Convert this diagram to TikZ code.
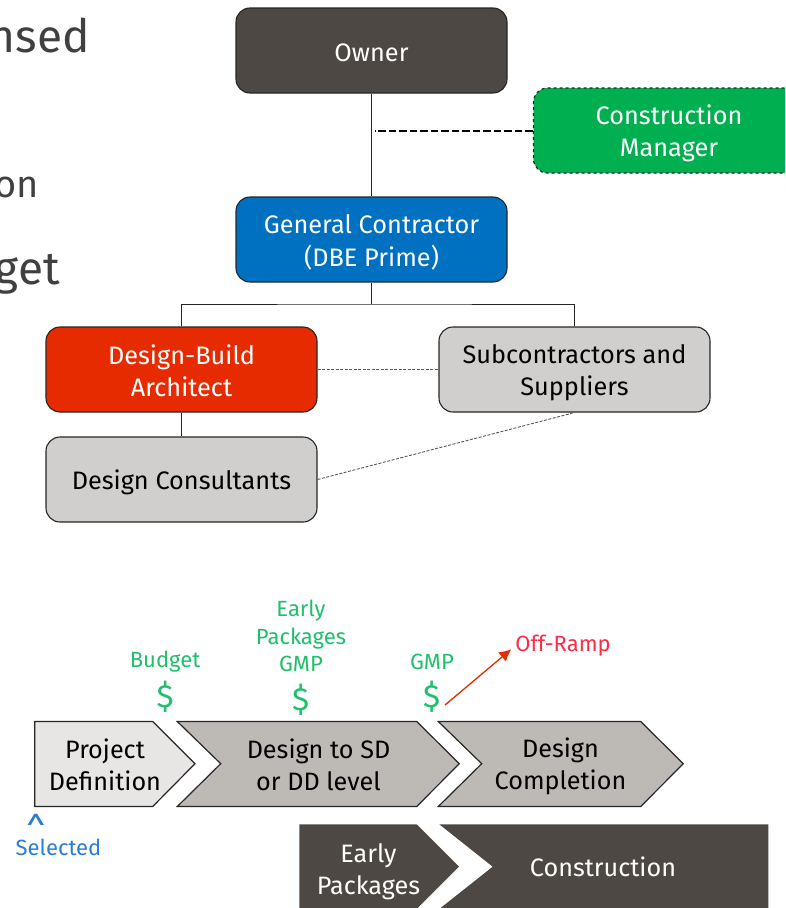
\documentclass[tikz,border=0pt]{standalone}
\usepackage{fontspec}
\setmainfont{Fira Sans}[Scale=1]
\usetikzlibrary{arrows.meta}
\definecolor{darkb}{HTML}{4D4843}
\definecolor{bluec}{HTML}{0070C0}
\definecolor{redc}{HTML}{E62B00}
\definecolor{greenc}{HTML}{00B050}
\definecolor{grayc}{HTML}{D1CFCD}
\definecolor{taupe}{HTML}{BDB9B5}
\definecolor{lightc}{HTML}{E8E6E5}
\definecolor{moneyg}{HTML}{1FBF6B}
\definecolor{selb}{HTML}{2B7CD3}
\definecolor{bigt}{HTML}{404040}
\definecolor{offr}{HTML}{FF2A45}
\newcommand{\lst}{\rule{0pt}{25pt}\rule[-3.2pt]{0pt}{3.2pt}}
\tikzset{
  x=1pt,y=-1pt,
  box/.style={draw=black!85,line width=1.1pt,rounded corners=14pt,minimum width=271pt,minimum height=85pt,
    align=center,font=\fontsize{25.3}{32.4}\selectfont,inner sep=0pt},
  wbox/.style={box,text=white},
  link/.style={line width=1pt,draw=black!85},
  thindash/.style={line width=1pt,draw=black!65,dash pattern=on 3pt off 1.5pt},
  chev/.style={draw=black!85,line width=1.2pt,line join=miter},
  lab/.style={align=center,inner sep=0pt,font=\fontsize{25.2}{32.4}\selectfont},
  money/.style={lab,text=moneyg,font=\fontsize{22}{27.5}\selectfont},
  dollar/.style={inner sep=0pt,text=moneyg,font=\fontsize{32}{32}\selectfont},
  bigtext/.style={inner sep=0pt,anchor=base east,text=bigt},
}
\begin{document}
\begin{tikzpicture}
\useasboundingbox (0,0) rectangle (785,908);
\clip (0,0) rectangle (785,908);
% background text fragments
\node[bigtext,font=\fontsize{46}{46}\selectfont] (t1) at (90,52) {nsed};
\node[bigtext,font=\fontsize{38}{38}\selectfont] (t2) at (39,197) {on};
\node[bigtext,font=\fontsize{46}{46}\selectfont] (t3) at (60,284) {get};
% org chart
\node[wbox,fill=darkb] (owner) at (371.5,50.5) {\lst Owner};
\node[wbox,fill=greenc,dashed,line width=1.2pt] (cm) at (669,130.5) {\lst Construction\\\lst Manager};
\node[wbox,fill=bluec] (gc) at (371.5,239.5) {\lst General Contractor\\\lst (DBE Prime)};
\node[wbox,fill=redc] (dba) at (181.5,369.5) {\lst Design-Build\\\lst Architect};
\node[box,fill=grayc] (subs) at (574.5,369.5) {\lst Subcontractors and\\\lst Suppliers};
\node[box,fill=grayc] (dc) at (181.5,479.5) {\lst Design Consultants};
\coordinate (cmend) at (375,130.5);
\coordinate (bus) at (371.5,304);
\draw[link] (owner) -- (gc);
\draw[line width=2pt,dash pattern=on 7.5pt off 3pt] (cm.west) -- (cmend);
\draw[link] (gc) -- (bus);
\draw[link] (dba.north) |- (bus) -| (subs.north);
\draw[link] (dba) -- (dc);
\draw[thindash] (dba.east) -- (subs.west);
\draw[thindash,line width=0.9pt] (dc.east) -- (subs.south);
% process chevrons
\draw[chev,fill=lightc] (34.7,721.5) -- (152.7,721.5) -- (195,763.7) -- (152.7,806.5) -- (34.7,806.5) -- cycle;
\draw[chev,fill=taupe] (177.3,721.5) -- (416.7,721.5) -- (459.3,763.7) -- (416.7,806.5) -- (177.3,806.5) -- (220.7,763.7) -- cycle;
\draw[chev,fill=taupe] (438.3,721.5) -- (640.7,721.5) -- (683.3,763.7) -- (640.7,806.5) -- (438.3,806.5) -- (481.7,763.7) -- cycle;
\fill[darkb] (299.3,824.3) -- (416.7,824.3) -- (459,866.7) -- (416.7,909) -- (299.3,909) -- cycle;
\fill[darkb] (439.3,824.3) -- (768.3,824.3) -- (768.3,909) -- (439.3,909) -- (492.7,866.7) -- cycle;
\node[lab] (pd) at (105,763.7) {\lst Project\\\lst Definition};
\node[lab] (ds) at (318.5,763.7) {\lst Design to SD\\\lst or DD level};
\node[lab] (dcomp) at (560.5,763.7) {\lst Design\\\lst Completion};
\node[lab,text=white] (ep) at (368.5,868.5) {\lst Early\\\lst Packages};
\node[lab,text=white] (con) at (603,865.6) {\lst Construction};
% funding labels
\node[money] (bud) at (165,662) {Budget};
\node[dollar] (d1) at (165,697) {\$};
\node[money] (epg) at (301,636) {Early\\Packages\\GMP};
\node[dollar] (d2) at (300.7,700) {\$};
\node[money] (gmp) at (432,662) {GMP};
\node[dollar] (d3) at (431.7,697) {\$};
\node[money,text=offr] (off) at (563,646) {Off-Ramp};
\coordinate (offstart) at (445,705);
\draw[-{Latex[length=12pt,width=12pt]},line width=1.3pt,draw=redc,fill=redc,shorten >=5pt] (offstart) -- (off.west);
\node[inner sep=0pt,text=selb,font=\fontsize{36}{36}\selectfont] (caret) at (36,829) {\char`\^};
\node[money,text=selb] (sel) at (58.5,847) {Selected};
\end{tikzpicture}
\end{document}
